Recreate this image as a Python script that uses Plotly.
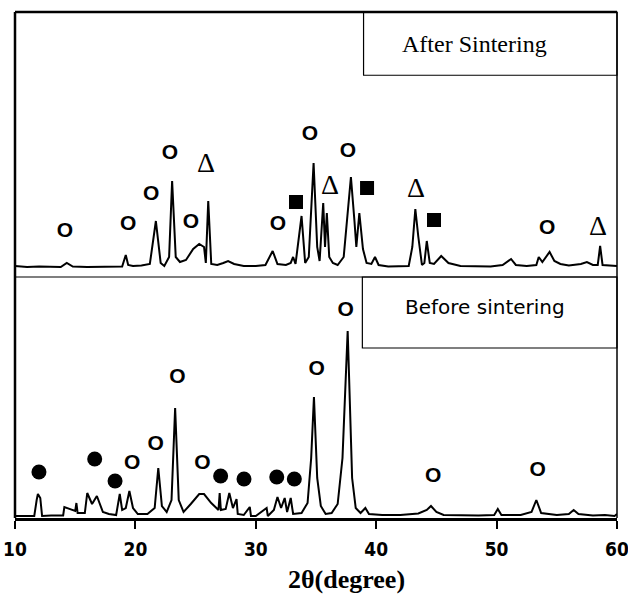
import plotly.graph_objects as go

# ---------------- data (2θ in degrees, intensity in arbitrary units) ----------------
after_x = [10.0, 11.0, 12.0, 13.0, 13.8, 14.3, 14.8, 16.0, 17.0, 18.0, 18.9, 19.2, 19.4, 19.8, 20.5,
           21.2, 21.7, 22.1, 22.4, 22.8, 23.05, 23.35, 23.7, 24.2, 24.8, 25.3, 25.7, 25.85, 26.05, 26.3,
           26.8, 27.3, 27.7, 28.2, 29.0, 30.0, 30.8, 31.4, 31.8, 32.5, 32.9, 33.1, 33.3, 33.8, 34.1,
           34.4, 34.8, 35.1, 35.3, 35.6, 35.75, 35.9, 36.1, 36.4, 36.8, 37.3, 37.9, 38.2, 38.35, 38.6,
           38.9, 39.2, 39.6, 39.9, 40.2, 41.0, 42.0, 42.7, 43.0, 43.25, 43.5, 43.8, 44.0, 44.2, 44.45,
           44.8, 45.4, 46.0, 47.0, 48.0, 49.5, 50.5, 51.2, 51.6, 52.5, 53.3, 53.5, 53.8, 54.4, 54.8,
           55.3, 56.0, 57.0, 57.5, 58.0, 58.4, 58.6, 58.8, 59.5, 60.0]
after_y = [11, 10, 10.5, 10, 10, 14, 10.5, 10, 10, 10, 10.5, 22, 12, 11, 11.5,
           13, 56, 14, 11, 20, 96, 20, 15, 17, 28, 33, 30, 14, 76, 13,
           12, 14, 16, 13, 11, 11, 12, 26, 13, 12, 14, 20, 13, 61, 14,
           20, 114, 30, 16, 74, 30, 64, 20, 14, 12, 20, 100, 55, 30, 64,
           28, 14, 13, 20, 12, 10.5, 10.5, 11, 30, 68, 40, 12, 14, 36, 14,
           13, 21, 14, 11, 10.5, 10.5, 12, 18, 12, 11, 12, 20, 15, 25, 16,
           13, 11.5, 13, 15, 12, 12, 31, 12, 11, 11]

before_x = [10.0, 11.0, 11.6, 11.8, 11.9, 12.1, 12.25, 13.0, 14.0, 14.1, 14.5, 15.0, 15.1, 15.2, 15.8,
            16.0, 16.4, 16.8, 17.3, 17.8, 18.4, 18.7, 18.9, 19.2, 19.5, 19.8, 20.2, 21.0, 21.6, 21.9,
            22.2, 22.6, 23.0, 23.3, 23.6, 24.0, 24.6, 25.3, 25.7, 26.3, 26.9, 27.0, 27.1, 27.5, 27.8,
            28.1, 28.4, 28.5, 29.0, 29.5, 29.6, 30.0, 30.9, 31.0, 31.5, 31.8, 32.1, 32.4, 32.6, 32.9,
            33.1, 33.8, 34.3, 34.6, 34.83, 35.1, 35.4, 35.8, 36.3, 36.8, 37.2, 37.5, 37.63, 37.75, 38.0,
            38.3, 38.7, 39.1, 39.4, 40.5, 42.0, 43.5, 44.2, 44.55, 45.0, 45.6, 47.0, 48.5, 49.8, 50.1,
            50.4, 52.0, 52.9, 53.3, 53.7, 55.0, 56.0, 56.4, 56.8, 58.0, 59.0, 59.8, 60.0]
before_y = [2, 2, 2, 18, 24, 20, 2, 2.5, 2.5, 11, 9, 7, 15, 5, 5,
            25, 14, 22, 6, 4, 3, 24, 8, 10, 27, 10, 4, 4, 10, 50,
            12, 6, 18, 110, 18, 6, 14, 24, 24, 15, 8, 25, 8, 9, 25,
            10, 19, 4, 3, 11, 2, 2, 10, 2, 8, 21, 10, 20, 6, 20,
            4, 5, 15, 60, 121, 40, 12, 4, 5, 14, 60, 160, 187, 140, 40,
            10, 5, 10, 4, 3, 3, 4.5, 8, 12, 6, 3, 2.5, 2.5, 3, 9,
            3, 3, 6, 18, 5, 3, 4, 8, 4, 2.5, 3, 2, 4]

# phase labels (position of each symbol)
after_circle_x = [14.15, 19.39, 21.30, 22.87, 24.62, 31.84, 34.50, 37.66, 54.19]
after_circle_y = [45, 52, 82, 123, 54, 52, 142, 125, 48]
after_delta_x = [25.86, 36.16, 43.31, 58.42]
after_delta_y = [112, 90, 87, 49]
after_square_x = [33.34, 39.24, 44.80]
after_square_y = [75, 89, 57]

before_circle_x = [19.74, 21.69, 23.48, 25.56, 35.06, 37.47, 44.74, 53.41]
before_circle_y = [54, 73, 140, 54, 148, 207, 41, 47]
before_dot_x = [11.99, 16.62, 18.31, 27.08, 29.02, 31.74, 33.20]
before_dot_y = [46, 59, 37, 42, 39, 41, 39]

x_ticks = [10, 20, 30, 40, 50, 60]
label_after = "After Sintering"
label_before = "Before sintering"
x_title = "2θ(degree)"

# ---------------- figure ----------------
SPLIT = 0.4763
fig = go.Figure()

line = dict(color="black", width=2)
fig.add_trace(go.Scatter(x=after_x, y=after_y, mode="lines", line=line, yaxis="y2"))
fig.add_trace(go.Scatter(x=before_x, y=before_y, mode="lines", line=line, yaxis="y"))

o_font = dict(family="Liberation Sans, Arial", size=21, color="black", weight="bold")
fig.add_trace(go.Scatter(x=after_circle_x, y=after_circle_y, mode="text", text=["O"] * len(after_circle_x),
                         textfont=o_font, yaxis="y2", cliponaxis=False))
fig.add_trace(go.Scatter(x=before_circle_x, y=before_circle_y, mode="text", text=["O"] * len(before_circle_x),
                         textfont=o_font, yaxis="y", cliponaxis=False))
fig.add_trace(go.Scatter(x=after_delta_x, y=after_delta_y, mode="text", text=["Δ"] * len(after_delta_x),
                         textfont=dict(family="Liberation Serif, Times New Roman", size=28, color="black"),
                         yaxis="y2", cliponaxis=False))
fig.add_trace(go.Scatter(x=after_square_x, y=after_square_y, mode="markers",
                         marker=dict(symbol="square", size=14, color="black"), yaxis="y2"))
fig.add_trace(go.Scatter(x=before_dot_x, y=before_dot_y, mode="markers",
                         marker=dict(symbol="circle", size=15, color="black"), yaxis="y"))

shapes = [
    # frame
    dict(type="line", xref="paper", yref="paper", x0=0, x1=0, y0=0, y1=1, line=dict(color="black", width=2.5)),
    dict(type="line", xref="paper", yref="paper", x0=0, x1=1, y0=1, y1=1, line=dict(color="black", width=2.5)),
    dict(type="line", xref="paper", yref="paper", x0=1, x1=1, y0=0, y1=1, line=dict(color="black", width=1.5)),
    dict(type="line", xref="paper", yref="paper", x0=0, x1=1, y0=SPLIT, y1=SPLIT, line=dict(color="black", width=1.2)),
    # label boxes
    dict(type="rect", xref="paper", yref="paper", x0=0.579, x1=1, y0=0.875, y1=1, line=dict(color="black", width=1.2)),
    dict(type="rect", xref="paper", yref="paper", x0=0.577, x1=1, y0=0.336, y1=SPLIT, line=dict(color="black", width=1.2)),
]

annotations = [
    dict(xref="paper", yref="paper", x=0.764, y=0.9375, text=label_after, showarrow=False,
         font=dict(family="Liberation Serif, Times New Roman", size=24, color="black"), xanchor="center", yanchor="middle"),
    dict(xref="paper", yref="paper", x=0.781, y=0.417, text=label_before, showarrow=False,
         font=dict(family="DejaVu Sans, Verdana", size=20, color="black"), xanchor="center", yanchor="middle"),
    dict(xref="paper", yref="paper", x=0.55, y=-0.121, text="<b>" + x_title + "</b>", showarrow=False,
         font=dict(family="Liberation Serif, Times New Roman", size=26, color="black"), xanchor="center", yanchor="middle"),
]

fig.update_layout(
    width=628, height=595,
    margin=dict(l=15, r=11, t=12, b=77, autoexpand=False),
    paper_bgcolor="white", plot_bgcolor="white",
    showlegend=False,
    shapes=shapes, annotations=annotations,
    xaxis=dict(range=[10, 60], tickvals=x_ticks, ticktext=[str(v) for v in x_ticks],
               ticks="outside", ticklen=8, tickwidth=1.5, tickcolor="black", automargin=False,
               ticklabeloverflow="allow", ticklabelstandoff=4,
               showline=True, linecolor="black", linewidth=3, showgrid=False, zeroline=False,
               tickfont=dict(family="Liberation Sans Narrow, DejaVu Sans Condensed, Arial Narrow", size=19, color="black", weight="bold"),
               anchor="y"),
    yaxis=dict(domain=[0, SPLIT], range=[0, 241], showticklabels=False, showgrid=False, zeroline=False,
               ticks="", showline=False, automargin=False),
    yaxis2=dict(domain=[SPLIT, 1], range=[0, 265], showticklabels=False, showgrid=False, zeroline=False,
                ticks="", showline=False, anchor="x", automargin=False),
)

# remove the browser's default 8 px page margin so the figure fills the window
fig.write_html("out.html", config={"displayModeBar": False},
               post_script="document.body.style.margin='0';")
